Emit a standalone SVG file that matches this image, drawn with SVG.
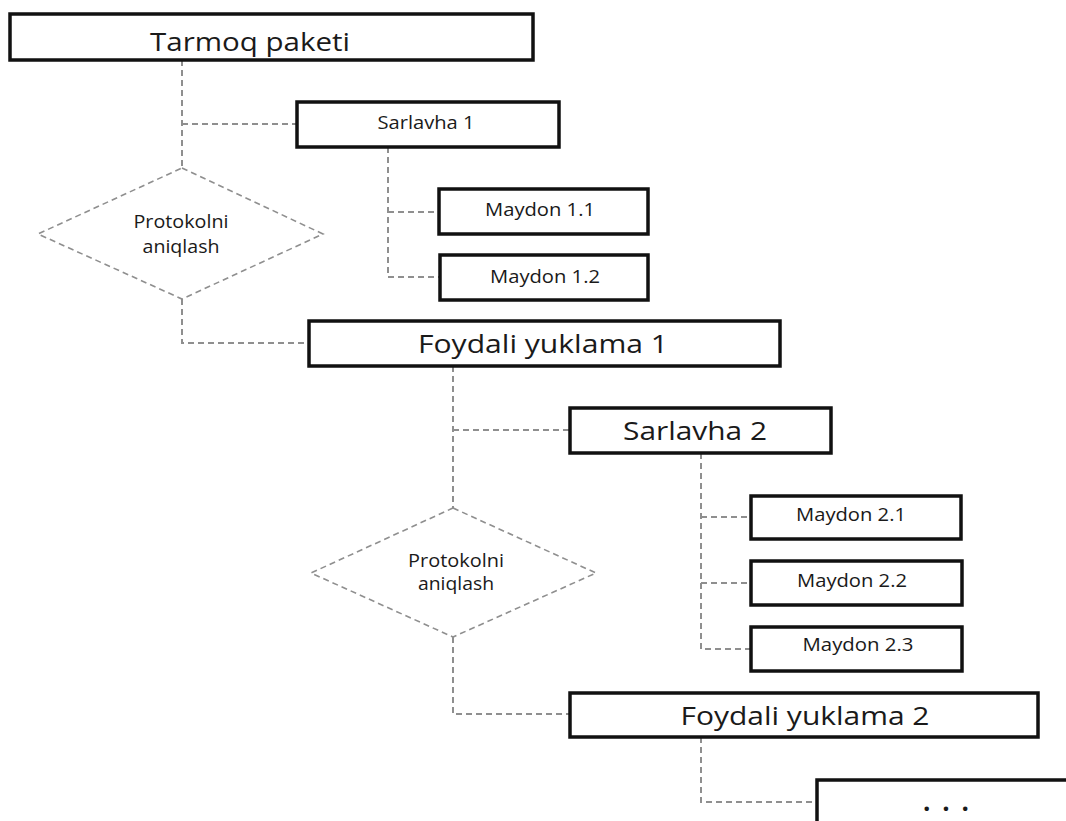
<svg xmlns="http://www.w3.org/2000/svg" width="1066" height="821" viewBox="0 0 1066 821">
<style>
  .box { fill: #ffffff; stroke: #111111; stroke-width: 3.5; }
  .dia { fill: #ffffff; stroke: #8f8f8f; stroke-width: 1.6; stroke-dasharray: 6 4; }
  .con { fill: none; stroke: #8f8f8f; stroke-width: 2; stroke-dasharray: 6 4; }
  text { font-family: "Open Sans", "Liberation Sans", sans-serif; fill: #1a1a1a; text-anchor: middle; }
  .big { font-size: 26px; }
  .small { font-size: 18px; }
</style>
<rect x="0" y="0" width="1066" height="821" fill="#ffffff"/>
<g id="connectors">
  <path class="con" d="M182 60 V168"/>
  <path class="con" d="M182 124 H297"/>
  <path class="con" d="M182 299 V343 H309"/>
  <path class="con" d="M388 147 V277 H440"/>
  <path class="con" d="M388 212 H439"/>
  <path class="con" d="M453 366 V508"/>
  <path class="con" d="M453 430 H570"/>
  <path class="con" d="M453 637 V714 H570"/>
  <path class="con" d="M701 453 V649 H751"/>
  <path class="con" d="M701 517 H751"/>
  <path class="con" d="M701 583 H751"/>
  <path class="con" d="M701 737 V802 H817"/>
</g>
<g id="tarmoq-paketi">
  <rect class="box" x="10" y="14" width="523" height="46"/>
  <text class="big" x="250" y="51" font-size="27" textLength="200" lengthAdjust="spacingAndGlyphs">Tarmoq paketi</text>
</g>
<g id="sarlavha-1">
  <rect class="box" x="297" y="102" width="262" height="45"/>
  <text class="small" x="426" y="129" textLength="97" lengthAdjust="spacingAndGlyphs">Sarlavha 1</text>
</g>
<g id="protokol-1">
  <polygon class="dia" points="182,168 323,234 182,299 38,234"/>
  <text class="small" x="181" y="228" textLength="95" lengthAdjust="spacingAndGlyphs">Protokolni</text>
  <text class="small" x="181" y="253" textLength="77" lengthAdjust="spacingAndGlyphs">aniqlash</text>
</g>
<g id="maydon-1-1">
  <rect class="box" x="439" y="189" width="209" height="45"/>
  <text class="small" x="540" y="216" textLength="110" lengthAdjust="spacingAndGlyphs">Maydon 1.1</text>
</g>
<g id="maydon-1-2">
  <rect class="box" x="440" y="255" width="208" height="45"/>
  <text class="small" x="545" y="283" textLength="110" lengthAdjust="spacingAndGlyphs">Maydon 1.2</text>
</g>
<g id="foydali-yuklama-1">
  <rect class="box" x="309" y="321" width="471" height="45"/>
  <text class="big" x="543" y="353" font-size="25" textLength="250" lengthAdjust="spacingAndGlyphs">Foydali yuklama 1</text>
</g>
<g id="sarlavha-2">
  <rect class="box" x="570" y="408" width="261" height="45"/>
  <text class="big" x="695" y="440" font-size="25" textLength="144" lengthAdjust="spacingAndGlyphs">Sarlavha 2</text>
</g>
<g id="protokol-2">
  <polygon class="dia" points="453,508 596,573 453,637 311,573"/>
  <text class="small" x="456" y="567" textLength="96" lengthAdjust="spacingAndGlyphs">Protokolni</text>
  <text class="small" x="456" y="590" textLength="76" lengthAdjust="spacingAndGlyphs">aniqlash</text>
</g>
<g id="maydon-2-1">
  <rect class="box" x="751" y="496" width="210" height="43"/>
  <text class="small" x="851" y="521" textLength="110" lengthAdjust="spacingAndGlyphs">Maydon 2.1</text>
</g>
<g id="maydon-2-2">
  <rect class="box" x="751" y="561" width="211" height="44"/>
  <text class="small" x="852" y="587" textLength="110" lengthAdjust="spacingAndGlyphs">Maydon 2.2</text>
</g>
<g id="maydon-2-3">
  <rect class="box" x="751" y="627" width="211" height="44"/>
  <text class="small" x="858" y="651" textLength="111" lengthAdjust="spacingAndGlyphs">Maydon 2.3</text>
</g>
<g id="foydali-yuklama-2">
  <rect class="box" x="570" y="693" width="468" height="44"/>
  <text class="big" x="805" y="725" font-size="25" textLength="249" lengthAdjust="spacingAndGlyphs">Foydali yuklama 2</text>
</g>
<g id="davomi">
  <rect class="box" x="817" y="780" width="270" height="70"/>
  <text x="946" y="811" font-size="26" font-weight="bold" textLength="46" lengthAdjust="spacing">...</text>
</g>
</svg>
